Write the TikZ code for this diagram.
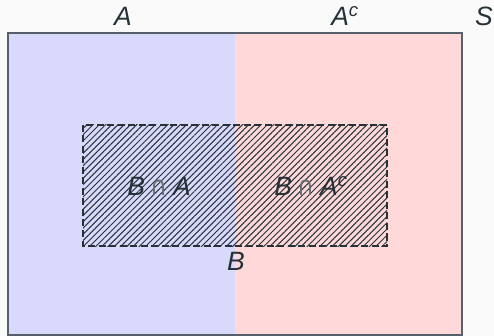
\documentclass[tikz,border=0pt]{standalone}
\usepackage{fontspec}
\setmainfont{Liberation Sans}
\newfontfamily\symf{DejaVu Sans}
\usetikzlibrary{patterns.meta}
\definecolor{bgc}{HTML}{FAFAFA}
\definecolor{bluef}{HTML}{D9D9FC}
\definecolor{redf}{HTML}{FFD9D9}
\definecolor{ink}{HTML}{263238}
\definecolor{edge}{HTML}{56606A}
\newcommand{\capsym}{\hspace{5pt}\resizebox{17pt}{15.5pt}{\symf\upshape\color{ink!70}∩}\hspace{6pt}}
\tikzset{
  lbl/.style={text=ink, font=\fontsize{26.5}{29}\selectfont\itshape, inner sep=0pt, anchor=base},
  hatchbox/.style={draw=ink, line width=1.7pt, dash pattern=on 7pt off 3.5pt,
    pattern={Lines[angle=45,distance=4.4pt,line width=1pt]}, pattern color=ink},
}
\begin{document}
\begin{tikzpicture}[x=1pt,y=-1pt]
\fill[bgc] (0,0) rectangle (494,336);
\useasboundingbox (0,0) rectangle (494,336);
% halves
\fill[bluef] (8,33) rectangle (235,335);
\fill[redf] (235,33) rectangle (462,335);
\draw[edge, line width=1.4pt] (8,33) rectangle (462,335);
% B region
\draw[hatchbox] (83,125) rectangle (387,246);
% labels
\node[lbl] (A) at (123,26) {A};
\node[lbl] (Ac) at (345,26) {A\textsuperscript{c}};
\node[lbl] (S) at (484,26) {S};
\node[lbl] (BA) at (159,195.5) {B\capsym A};
\node[lbl] (BAc) at (311,195.5) {B\capsym A\textsuperscript{c}};
\node[lbl] (B) at (236,270) {B};
\end{tikzpicture}
\end{document}
